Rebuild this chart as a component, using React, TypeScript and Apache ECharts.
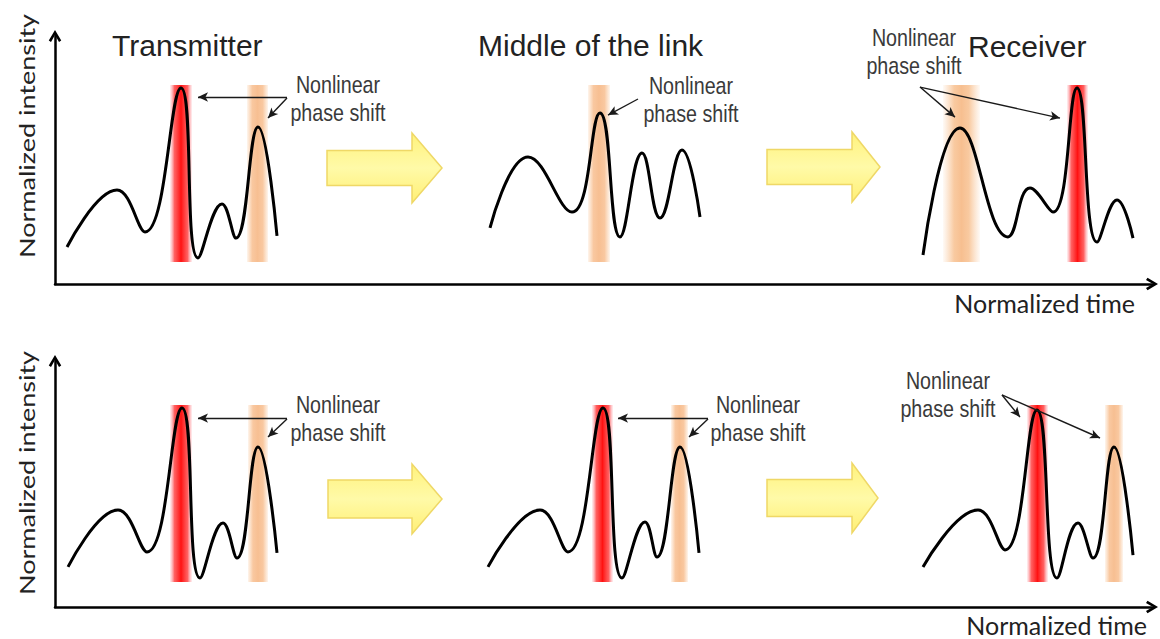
import React, { useEffect, useRef } from "react";
import * as echarts from "echarts";

// ---------- data (normalized time, normalized intensity) ----------
const TIME_MAX = 109.7;

// top row: pulse evolution without compensation
const transmitterTop: [number, number][] = [
  [1.2, 0.149], [6.2, 0.379], [9.0, 0.21], [12.6, 0.79], [14.3, 0.105],
  [16.7, 0.323], [18.1, 0.185], [20.3, 0.633], [22.2, 0.194],
];
const middleTop: [number, number][] = [
  [43.5, 0.226], [47.3, 0.512], [51.7, 0.29], [54.5, 0.69], [56.5, 0.19],
  [58.7, 0.528], [60.5, 0.266], [62.7, 0.54], [64.5, 0.27],
];
const receiverTop: [number, number][] = [
  [86.8, 0.117], [90.5, 0.629], [95.3, 0.19], [97.5, 0.387], [99.8, 0.29],
  [102.2, 0.79], [104.2, 0.169], [106.2, 0.339], [107.8, 0.185],
];

// bottom row
const transmitterBottom: [number, number][] = [
  [1.3, 0.163], [6.3, 0.394], [9.2, 0.224], [12.7, 0.809], [14.5, 0.118],
  [16.8, 0.341], [18.2, 0.199], [20.3, 0.65], [22.2, 0.22],
];
const middleBottom: [number, number][] = [
  [43.3, 0.163], [48.5, 0.394], [51.3, 0.224], [54.8, 0.809], [56.7, 0.118],
  [59.0, 0.346], [60.2, 0.203], [62.5, 0.65], [64.4, 0.22],
];
const receiverBottom: [number, number][] = [
  [86.8, 0.163], [92.3, 0.394], [95.0, 0.232], [98.2, 0.801], [100.2, 0.118],
  [102.3, 0.341], [103.8, 0.199], [105.9, 0.65], [107.8, 0.211],
];

// highlighted bands: [tStart, tEnd, kind]
const bandsTop = {
  tx: [[11.5, 13.7, "red"], [19.2, 21.3, "orange"]],
  mid: [[53.3, 55.5, "orange"]],
  rx: [[88.8, 92.5, "orangeWide"], [101.2, 103.3, "red"]],
};
const bandRangeTop: [number, number] = [0.089, 0.802];
const bandsBottom = {
  tx: [[11.5, 13.7, "red"], [19.3, 21.3, "orange"]],
  mid: [[53.7, 55.8, "red"], [61.6, 63.3, "orange"]],
  rx: [[97.2, 99.3, "red"], [105.0, 106.8, "orange"]],
};
const bandRangeBottom: [number, number] = [0.102, 0.821];

// annotation arrows: [from, to]
const arrowsTop = {
  tx: [[[23.2, 0.754], [14.3, 0.754]], [[23.2, 0.75], [21.3, 0.669]]],
  mid: [[[58.3, 0.746], [55.3, 0.681]]],
  rx: [[[86.5, 0.794], [90.0, 0.673]], [[86.5, 0.794], [100.5, 0.669]]],
};
const arrowsBottom = {
  tx: [[[23.2, 0.768], [14.3, 0.768]], [[23.2, 0.764], [21.3, 0.691]]],
  mid: [[[65.3, 0.768], [56.3, 0.768]], [[65.3, 0.764], [63.4, 0.691]]],
  rx: [[[94.7, 0.862], [96.5, 0.772]], [[94.7, 0.862], [104.5, 0.687]]],
};

const stageTitles = ["Transmitter", "Middle of the link", "Receiver"];
const annotationText = "Nonlinear\nphase shift";
const yName = "Normalized intensity";
const xName = "Normalized time";

// ---------- styling helpers ----------
const CHEVRON = "path://M0,8.4 L5,0 L10,8.4 L8.2,9.6 L5,4.0 L1.8,9.6 Z";

function bandColor(kind: string) {
  if (kind === "red") {
    return new echarts.graphic.LinearGradient(0, 0, 1, 0, [
      { offset: 0, color: "rgba(255,150,160,0.15)" },
      { offset: 0.2, color: "rgba(255,70,70,0.85)" },
      { offset: 0.5, color: "#ff1212" },
      { offset: 0.8, color: "rgba(255,70,70,0.85)" },
      { offset: 1, color: "rgba(255,150,160,0.15)" },
    ]);
  }
  if (kind === "orangeWide") {
    return new echarts.graphic.LinearGradient(0, 0, 1, 0, [
      { offset: 0, color: "rgba(250,205,165,0.1)" },
      { offset: 0.3, color: "rgba(248,196,150,0.9)" },
      { offset: 0.5, color: "#f7bf90" },
      { offset: 0.7, color: "rgba(248,196,150,0.9)" },
      { offset: 1, color: "rgba(250,205,165,0.1)" },
    ]);
  }
  return new echarts.graphic.LinearGradient(0, 0, 1, 0, [
    { offset: 0, color: "rgba(250,205,165,0.2)" },
    { offset: 0.25, color: "#f9c8a0" },
    { offset: 0.5, color: "#f7bf92" },
    { offset: 0.75, color: "#f9c8a0" },
    { offset: 1, color: "rgba(250,205,165,0.2)" },
  ]);
}

function waveSeries(
  data: [number, number][],
  bands: any[],
  range: [number, number],
  arrows: any[],
  axisIndex: number
) {
  return {
    type: "line",
    xAxisIndex: axisIndex,
    yAxisIndex: axisIndex,
    data,
    smooth: 0.45,
    symbol: "none",
    showSymbol: false,
    silent: true,
    z: 3,
    lineStyle: { color: "#000", width: 3 },
    markArea: {
      silent: true,
      data: bands.map((b) => [
        { xAxis: b[0], yAxis: range[0], itemStyle: { color: bandColor(b[2]) } },
        { xAxis: b[1], yAxis: range[1] },
      ]),
    },
    markLine: {
      silent: true,
      symbol: ["none", "arrow"],
      symbolSize: [7, 10],
      label: { show: false },
      lineStyle: { color: "#1a1a1a", width: 1.4, type: "solid" },
      data: arrows.map((a) => [{ coord: a[0] }, { coord: a[1] }]),
    },
  };
}

function axisX(gridIndex: number) {
  return {
    type: "value",
    gridIndex,
    min: 0,
    max: TIME_MAX,
    axisLine: {
      show: true,
      onZero: false,
      lineStyle: { color: "#000", width: 2.5 },
      symbol: ["none", CHEVRON],
      symbolSize: [18, 12],
    },
    axisTick: { show: false },
    axisLabel: { show: false },
    splitLine: { show: false },
  };
}
function axisY(gridIndex: number) {
  return {
    type: "value",
    gridIndex,
    min: 0,
    max: 1,
    axisLine: {
      show: true,
      onZero: false,
      lineStyle: { color: "#000", width: 2.5 },
      symbol: ["none", CHEVRON],
      symbolSize: [18, 12],
    },
    axisTick: { show: false },
    axisLabel: { show: false },
    splitLine: { show: false },
  };
}

function yellowArrow(pts: number[][]) {
  return {
    type: "polygon",
    shape: { points: pts },
    style: {
      fill: new echarts.graphic.LinearGradient(0, 0, 0, 1, [
        { offset: 0, color: "#fff27c" },
        { offset: 0.5, color: "#fffaa8" },
        { offset: 1, color: "#ffef74" },
      ]),
      stroke: "#efd866",
      lineWidth: 1.5,
    },
    z: 10,
  };
}

function arrowPoints(x0: number, xh: number, xt: number, yc: number, bh: number, hh: number) {
  return [
    [x0, yc - bh], [xh, yc - bh], [xh, yc - hh], [xt, yc],
    [xh, yc + hh], [xh, yc + bh], [x0, yc + bh],
  ];
}

function note(cx: number, cy: number) {
  return {
    type: "text",
    x: cx,
    y: cy,
    scaleX: 0.82,
    z: 20,
    style: {
      text: annotationText,
      font: '24px "Liberation Sans", Arial, sans-serif',
      fill: "#3a3a3a",
      textAlign: "center",
      textVerticalAlign: "middle",
      lineHeight: 28,
    },
  };
}

function title(x: number, y: number, text: string) {
  return {
    type: "text",
    x,
    y,
    z: 20,
    style: {
      text,
      font: '30px "Liberation Sans", Arial, sans-serif',
      fill: "#222",
      textAlign: "left",
      textVerticalAlign: "middle",
    },
  };
}

function yLabel(cy: number) {
  return {
    type: "text",
    x: 27,
    y: cy,
    rotation: Math.PI / 2,
    scaleY: 0.8,
    z: 20,
    style: {
      text: yName,
      font: '27px Lato, "Open Sans", sans-serif',
      fill: "#222",
      textAlign: "center",
      textVerticalAlign: "middle",
    },
  };
}

function xLabel(x: number, cy: number) {
  return {
    type: "text",
    x,
    y: cy,
    z: 20,
    style: {
      text: xName,
      font: '25px Lato, "Open Sans", sans-serif',
      fill: "#222",
      textAlign: "right",
      textVerticalAlign: "middle",
    },
  };
}

export default function App() {
  const ref = useRef<HTMLDivElement>(null);
  useEffect(() => {
    if (!ref.current) return;
    const chart = echarts.init(ref.current, undefined, { renderer: "svg" });
    chart.setOption({
      animation: false,
      backgroundColor: "#fff",
      grid: [
        { left: 55, right: 8, top: 36, height: 248 },
        { left: 55, right: 8, top: 361, height: 246 },
      ],
      xAxis: [axisX(0), axisX(1)],
      yAxis: [axisY(0), axisY(1)],
      series: [
        waveSeries(transmitterTop, bandsTop.tx, bandRangeTop, arrowsTop.tx, 0),
        waveSeries(middleTop, bandsTop.mid, bandRangeTop, arrowsTop.mid, 0),
        waveSeries(receiverTop, bandsTop.rx, bandRangeTop, arrowsTop.rx, 0),
        waveSeries(transmitterBottom, bandsBottom.tx, bandRangeBottom, arrowsBottom.tx, 1),
        waveSeries(middleBottom, bandsBottom.mid, bandRangeBottom, arrowsBottom.mid, 1),
        waveSeries(receiverBottom, bandsBottom.rx, bandRangeBottom, arrowsBottom.rx, 1),
      ],
      graphic: [
        title(112, 45, stageTitles[0]),
        title(478, 45, stageTitles[1]),
        title(968, 46, stageTitles[2]),
        note(338, 99),
        note(691, 100),
        note(914, 52),
        note(338, 419),
        note(758, 419),
        note(948, 395),
        yellowArrow(arrowPoints(327, 412, 442, 168, 17.5, 35)),
        yellowArrow(arrowPoints(767, 852, 880, 167, 17.5, 35)),
        yellowArrow(arrowPoints(328, 412, 442, 499, 19, 35)),
        yellowArrow(arrowPoints(767, 852, 878, 498, 18.5, 35)),
        yLabel(136),
        yLabel(473),
        xLabel(1135, 303),
        xLabel(1147, 625),
      ],
    });
    return () => chart.dispose();
  }, []);
  return (
    <div
      ref={ref}
      style={{ position: "fixed", left: 0, top: 0, width: 1160, height: 639 }}
    />
  );
}
